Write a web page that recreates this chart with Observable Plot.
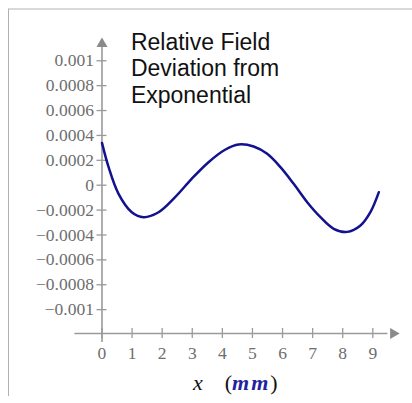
<!DOCTYPE html>
<html>
<head>
<meta charset="utf-8">
<script src="https://cdn.jsdelivr.net/npm/d3@7"></script>
<script src="https://cdn.jsdelivr.net/npm/@observablehq/plot@0.6"></script>
<style>
  html, body { margin: 0; padding: 0; background: #fff; }
  #wrap { position: relative; width: 412px; height: 403px; overflow: hidden; }
  #frame { position: absolute; left: 8px; top: 8px; width: 420px; height: 388px;
           border-top: 2px solid #d9d9d9; border-left: 1.5px solid #b0b0b0; box-sizing: border-box; }
  #chart { position: absolute; left: 0; top: 0; }
  g[aria-label="tick-labels"] text { letter-spacing: 0.6px; }
</style>
</head>
<body>
<div id="wrap"><div id="frame"></div><div id="chart"></div></div>
<script>
// Data
const xPos = [0, 0.22, 0.55, 0.99, 1.38, 1.88, 2.43, 2.98, 3.54, 4.09, 4.54, 5.04, 5.49, 5.93, 6.37, 6.82, 7.26, 7.70, 8.15, 8.59, 8.92, 9.20];
const deviation = [0.00034, 0.000145, -0.000069, -0.000217, -0.000257, -0.000217, -0.000096, 0.000051, 0.000185, 0.000285, 0.000327, 0.000311, 0.000252, 0.000145, 0.000011, -0.000137, -0.000257, -0.000350, -0.000375, -0.000324, -0.000217, -0.000056];
const yTicks = [0.001, 0.0008, 0.0006, 0.0004, 0.0002, 0, -0.0002, -0.0004, -0.0006, -0.0008, -0.001];
const yTickLabels = ["0.001", "0.0008", "0.0006", "0.0004", "0.0002", "0", "\u22120.0002", "\u22120.0004", "\u22120.0006", "\u22120.0008", "\u22120.001"];
const xTicks = [0, 1, 2, 3, 4, 5, 6, 7, 8, 9];
const xTickLabels = ["0", "1", "2", "3", "4", "5", "6", "7", "8", "9"];
const titleText = "Relative Field\nDeviation from\nExponential";

const rows = xPos.map((x, i) => ({x, y: deviation[i]}));

const W = 412, H = 403;
const mL = 74.4, mR = 12.6, mT = 37, mB = 61;
const xDom = [-0.9, 9.9];
const yDom = [-0.001264, 0.001187];
const pxPerX = (W - mL - mR) / (xDom[1] - xDom[0]);
const pxPerY = (H - mT - mB) / (yDom[1] - yDom[0]);
const xAxisAt = yDom[0] + 9 / pxPerY;       // horizontal axis line value
const axisColor = "#9a9a9a";
const labelColor = "#6e6e6e";
const serif = "Liberation Serif";
const tx = 5 / pxPerX, ty = 5 / pxPerY;

const plot = Plot.plot({
  width: W, height: H,
  marginLeft: mL, marginRight: mR, marginTop: mT, marginBottom: mB,
  x: {domain: xDom, axis: null},
  y: {domain: yDom, axis: null},
  style: {background: "transparent", overflow: "visible"},
  marks: [
    // axes lines
    Plot.ruleY([xAxisAt], {x1: xDom[0], x2: xDom[1] - 12 / pxPerX, stroke: axisColor, strokeWidth: 1.6}),
    Plot.ruleX([0], {y1: yDom[0], y2: yDom[1] - 10 / pxPerY, stroke: axisColor, strokeWidth: 1.6}),
    // arrow heads
    Plot.dot([0], {x: () => xDom[1] - 6.6 / pxPerX, y: () => xAxisAt, symbol: "triangle", r: 4.1, fill: "#8a8a8a", stroke: "none", rotate: 90}),
    Plot.dot([0], {x: () => 0, y: () => yDom[1] - 6.4 / pxPerY, symbol: "triangle", r: 4.1, fill: "#8a8a8a", stroke: "none"}),
    // tick marks
    Plot.ruleY(yTicks, {y: d => d, x1: -tx, x2: tx, stroke: axisColor, strokeWidth: 1.3}),
    Plot.ruleX(xTicks, {x: d => d, y1: xAxisAt - ty, y2: xAxisAt + ty, stroke: axisColor, strokeWidth: 1.3}),
    // tick labels
    Plot.text(yTicks, {x: 0, y: d => d, text: (d, i) => yTickLabels[i], textAnchor: "end", dx: -8,
      fontFamily: serif, fontSize: 17.5, fill: labelColor, ariaLabel: "tick-labels"}),
    Plot.text(xTicks, {x: d => d, y: xAxisAt, text: (d, i) => xTickLabels[i], dy: 20,
      fontFamily: serif, fontSize: 17.5, fill: labelColor, ariaLabel: "tick-labels"}),
    // curve
    Plot.line(rows, {x: "x", y: "y", curve: "catmull-rom", stroke: "#12128f", strokeWidth: 2.5}),
    // title
    Plot.text([titleText], {frameAnchor: "top-left", text: d => d, textAnchor: "start", lineAnchor: "top",
      dx: 56, dy: -6.5, lineHeight: 1.15, fontFamily: "Liberation Sans", fontSize: 23, fill: "#111"})
  ]
});

const svg = d3.select(plot);
const lbl = svg.append("text")
  .attr("x", 193).attr("y", 390).attr("text-anchor", "start")
  .attr("font-family", "Liberation Serif").attr("font-size", 22).attr("fill", "#111");
lbl.append("tspan").attr("font-style", "italic").text("x");
lbl.append("tspan").attr("dx", 22).text("(");
lbl.append("tspan").attr("font-style", "italic").attr("font-weight", "bold").attr("fill", "#23239e")
  .attr("letter-spacing", 2).text("mm");
lbl.append("tspan").attr("dx", 0).text(")");

document.getElementById("chart").appendChild(plot);
</script>
</body>
</html>
